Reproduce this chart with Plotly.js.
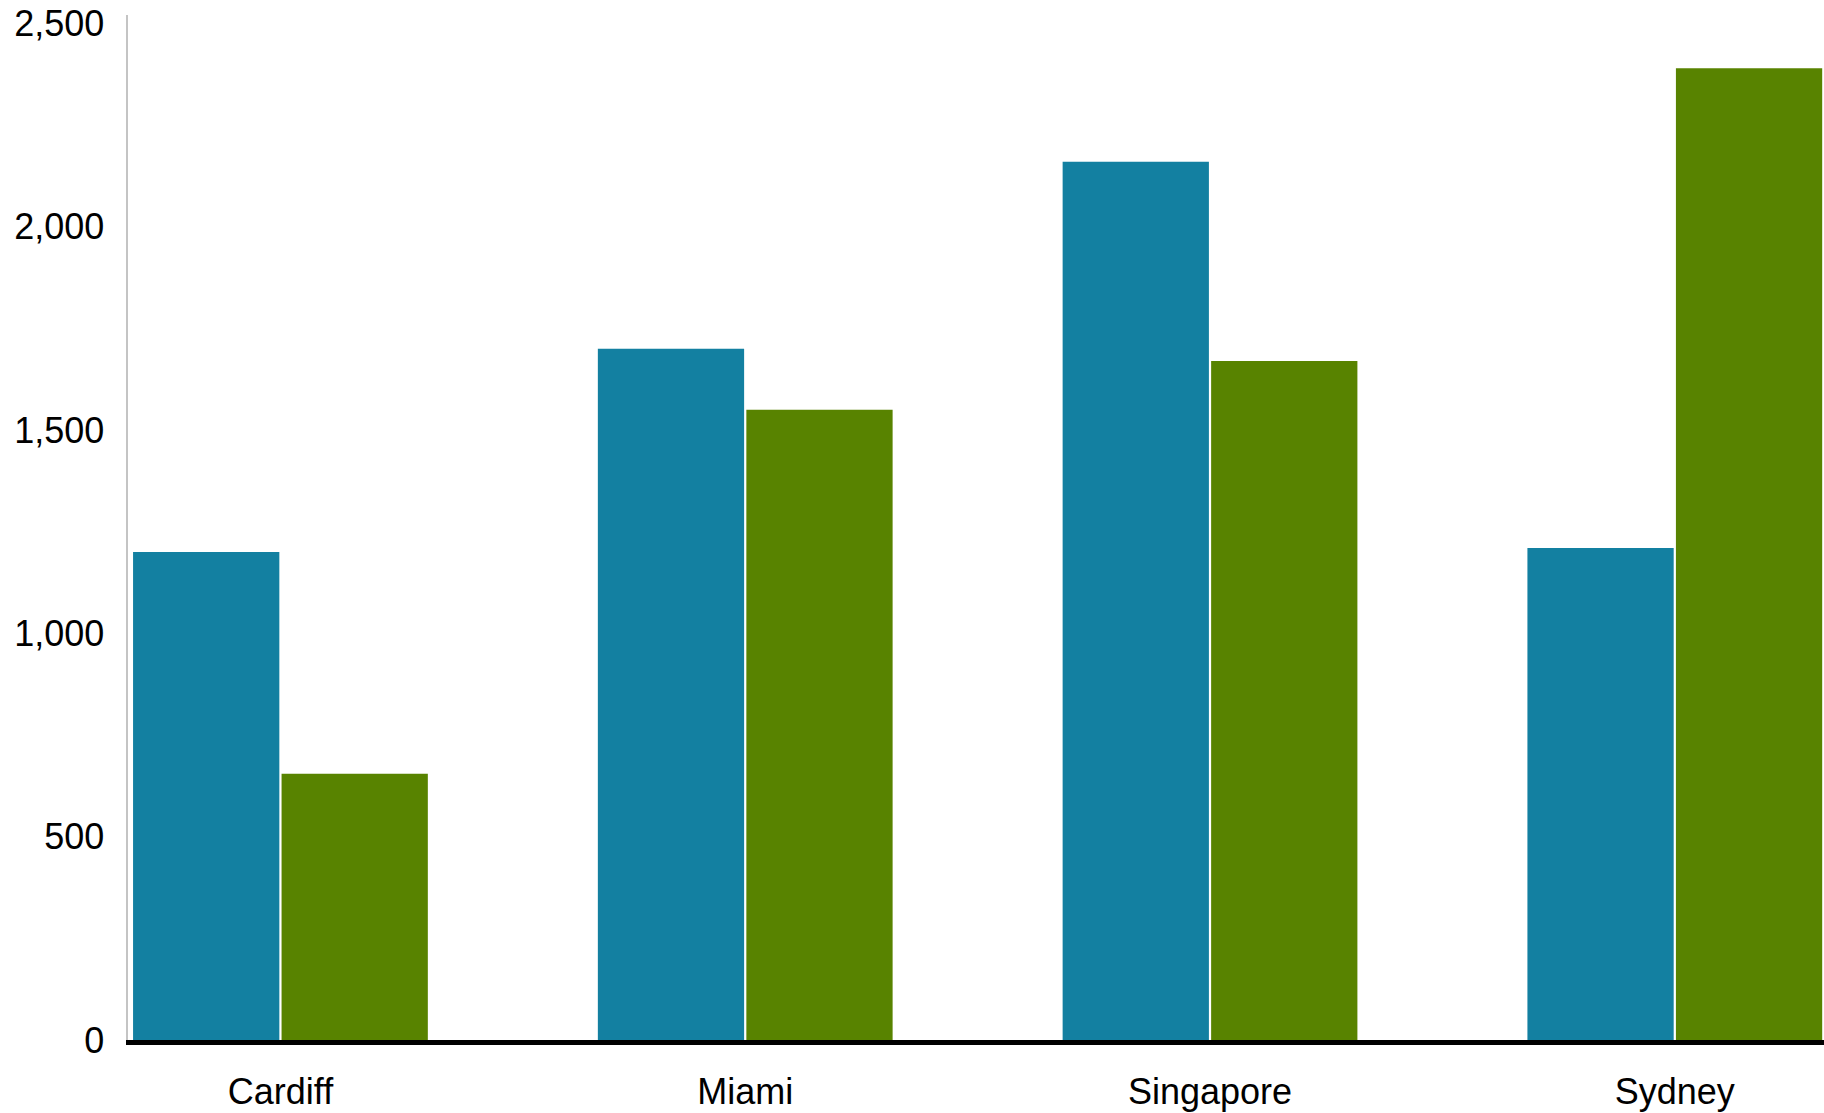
<!DOCTYPE html>
<html>
<head>
<meta charset="utf-8">
<script src="https://cdn.plot.ly/plotly-3.0.1.min.js"></script>
<style>
html, body { margin: 0; padding: 0; background: #ffffff; }
#chart { width: 1824px; height: 1113px; }
</style>
</head>
<body>
<div id="chart"></div>
<script>
const cities = ["Cardiff", "Miami", "Singapore", "Sydney"];
const seriesA = [1200, 1700, 2160, 1210];
const seriesB = [655, 1550, 1670, 2390];
const yTickVals = [0, 500, 1000, 1500, 2000, 2500];
const yTickText = ["0", "500", "1,000", "1,500", "2,000", "2,500"];

const traces = [
  { type: "bar", x: cities, y: seriesA, marker: { color: "#1380A1" }, hoverinfo: "x+y" },
  { type: "bar", x: cities, y: seriesB, marker: { color: "#588300" }, hoverinfo: "x+y" }
];

const labelFont = { family: "Liberation Sans, Arial, sans-serif", size: 36, color: "#000000" };

const layout = {
  width: 1824,
  height: 1113,
  margin: { l: 128, r: 0, t: 15, b: 73, pad: 0 },
  paper_bgcolor: "#ffffff",
  plot_bgcolor: "#ffffff",
  showlegend: false,
  barmode: "group",
  bargap: 0.361,
  bargroupgap: 0.015,
  font: labelFont,
  xaxis: {
    type: "category",
    range: [-0.328, 3.321],
    showgrid: false,
    zeroline: false,
    showline: true,
    linecolor: "#000000",
    linewidth: 4.5,
    ticks: "",
    ticklabelstandoff: 16,
    tickfont: labelFont,
    fixedrange: true
  },
  yaxis: {
    range: [0, 2521],
    tickvals: yTickVals,
    ticktext: yTickText,
    showgrid: false,
    zeroline: false,
    showline: true,
    linecolor: "#c4c4c4",
    linewidth: 2.5,
    ticks: "",
    ticklabelstandoff: 14,
    tickfont: labelFont,
    fixedrange: true
  }
};

Plotly.newPlot("chart", traces, layout, { displayModeBar: false, staticPlot: true });
</script>
</body>
</html>
